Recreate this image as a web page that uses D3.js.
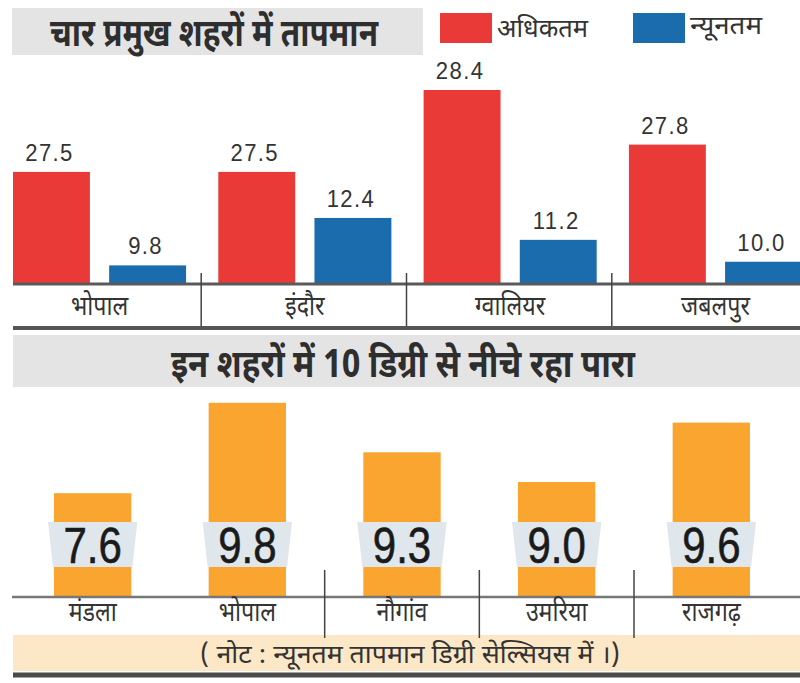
<!DOCTYPE html>
<html><head><meta charset="utf-8">
<script src="https://cdn.jsdelivr.net/npm/d3@7"></script>
<style>
html,body{margin:0;padding:0;background:#fff;}
svg{display:block;}
.dev{font-family:"Noto Sans Devanagari","Lohit Devanagari","Noto Sans",sans-serif;}
.num{font-family:"Liberation Sans","DejaVu Sans",sans-serif;}
</style>
</head><body>
<svg id="chart" width="800" height="683"></svg>
<script>
// ---- data ----
const titleTop = "चार प्रमुख शहरों में तापमान";
const titleBottom = "इन शहरों में 10 डिग्री से नीचे रहा पारा";
const noteText = "( नोट : न्यूनतम तापमान डिग्री सेल्सियस में ।)";
const seriesNames = ["अधिकतम", "न्यूनतम"];
const cities = ["भोपाल", "इंदौर", "ग्वालियर", "जबलपुर"];
const maxTemp = [27.5, 27.5, 28.4, 27.8];
const minTemp = [9.8, 12.4, 11.2, 10.0];
const coldCities = ["मंडला", "भोपाल", "नौगांव", "उमरिया", "राजगढ़"];
const coldTemp = [7.6, 9.8, 9.3, 9.0, 9.6];

const colors = {"अधिकतम": "#ea3a38", "न्यूनतम": "#1a6cad"};
const orange = "#f9a52f";
const fmt = d3.format(".1f");

const svg = d3.select("#chart");
const W = 800;

// ---- top section ----
svg.append("rect").attr("x", 12).attr("y", 8).attr("width", 411).attr("height", 47).attr("fill", "#e4e4e4");
svg.append("text").attr("class", "dev").attr("x", 214).attr("y", 46)
  .attr("text-anchor", "middle").attr("font-size", 39).attr("font-weight", "bold").attr("fill", "#2e2e2e")
  .attr("textLength", 328).attr("lengthAdjust", "spacingAndGlyphs").text(titleTop);

// legend
const leg = svg.append("g");
seriesNames.forEach((s, i) => {
  const g = leg.append("g").attr("transform", `translate(${440 + i * 193},13)`);
  g.append("rect").attr("width", 52).attr("height", 30).attr("fill", colors[s]);
  g.append("text").attr("class", "dev").attr("x", 57).attr("y", i === 0 ? 24 : 21)
    .attr("font-size", 26).attr("fill", "#333")
    .attr("textLength", i === 0 ? 91 : 72).attr("lengthAdjust", "spacingAndGlyphs").text(s);
});

const baseTop = 283;
const x0 = d3.scaleBand().domain(cities).range([13, 802]).paddingInner(0.157).paddingOuter(0);
const x1 = d3.scaleBand().domain(seriesNames).range([0, x0.bandwidth()]).paddingInner(0.2);
const yTop = d3.scaleLinear().domain([9, 13, 27.4, 28.4]).range([280, 207, 181, 90]);

const topData = cities.map((c, i) => ({city: c, vals: [
  {s: seriesNames[0], v: maxTemp[i]}, {s: seriesNames[1], v: minTemp[i]}]}));

const groups = svg.append("g").selectAll("g").data(topData).join("g")
  .attr("transform", d => `translate(${x0(d.city)},0)`);
groups.selectAll("rect").data(d => d.vals).join("rect")
  .attr("x", d => x1(d.s)).attr("width", x1.bandwidth())
  .attr("y", d => yTop(d.v)).attr("height", d => baseTop - yTop(d.v))
  .attr("fill", d => colors[d.s]);
groups.selectAll("text.val").data(d => d.vals).join("text").attr("class", "val num")
  .attr("transform", d => `translate(${x1(d.s) + x1.bandwidth() / 2 - 2},${yTop(d.v) - 11}) scale(0.92,1)`)
  .attr("text-anchor", "middle").attr("font-size", 24).attr("fill", "#333")
  .attr("letter-spacing", 1.5).text(d => fmt(d.v));

// category axis (top)
svg.append("line").attr("x1", 13).attr("x2", W).attr("y1", baseTop + 1).attr("y2", baseTop + 1)
  .attr("stroke", "#5a5a5a").attr("stroke-width", 3);
const stepTop = x0.step();
cities.slice(1).forEach(c => {
  const xd = x0(c) - (stepTop - x0.bandwidth()) / 2 - 1;
  svg.append("line").attr("x1", xd).attr("x2", xd).attr("y1", 273).attr("y2", 327)
    .attr("stroke", "#444").attr("stroke-width", 1.5);
});
svg.append("g").selectAll("text").data(cities).join("text").attr("class", "dev")
  .attr("transform", d => `translate(${x0(d) + x0.bandwidth() / 2},315) scale(0.86,1)`)
  .attr("text-anchor", "middle").attr("font-size", 27).attr("fill", "#333").text(d => d);
svg.append("line").attr("x1", 13).attr("x2", W).attr("y1", 328).attr("y2", 328)
  .attr("stroke", "#555").attr("stroke-width", 4);

// ---- bottom section ----
svg.append("rect").attr("x", 13).attr("y", 335).attr("width", W - 13).attr("height", 52).attr("fill", "#e4e4e4");
svg.append("text").attr("class", "dev").attr("x", 403).attr("y", 377)
  .attr("text-anchor", "middle").attr("font-size", 39).attr("font-weight", "bold").attr("fill", "#2e2e2e")
  .attr("textLength", 464).attr("lengthAdjust", "spacingAndGlyphs").text(titleBottom);

const baseBot = 597;
const xb = d3.scaleBand().domain(coldCities).range([54, 750]).paddingInner(0.5).paddingOuter(0);
const yb = d3.scaleLinear().domain([7, 9, 10]).range([498, 482, 383]);
const coldData = coldCities.map((c, i) => ({city: c, v: coldTemp[i]}));

svg.append("g").selectAll("rect").data(coldData).join("rect")
  .attr("x", d => xb(d.city)).attr("width", xb.bandwidth())
  .attr("y", d => yb(d.v)).attr("height", d => baseBot - yb(d.v)).attr("fill", orange);

// label stickers
svg.append("g").selectAll("path").data(coldData).join("path")
  .attr("d", d => {
    const a = xb(d.city), b = a + xb.bandwidth();
    return `M${a - 6},522 L${b + 6},522 L${b + 1},567 L${a - 1},567 Z`;
  }).attr("fill", "#dfe6ec");
svg.append("g").selectAll("text").data(coldData).join("text").attr("class", "num")
  .attr("transform", d => `translate(${xb(d.city) + xb.bandwidth() / 2},563) scale(0.84,1)`)
  .attr("text-anchor", "middle").attr("font-size", 50).attr("fill", "#1a1a1a")
  .attr("stroke", "#1a1a1a").attr("stroke-width", 0.6).text(d => fmt(d.v));

svg.append("line").attr("x1", 12).attr("x2", W).attr("y1", baseBot).attr("y2", baseBot)
  .attr("stroke", "#777").attr("stroke-width", 2.5);

// note band
svg.append("rect").attr("x", 13).attr("y", 635).attr("width", W - 13).attr("height", 36).attr("fill", "#fce7c6");
svg.append("text").attr("class", "dev").attr("x", 410).attr("y", 663)
  .attr("text-anchor", "middle").attr("font-size", 25).attr("fill", "#333")
  .attr("textLength", 420).attr("lengthAdjust", "spacingAndGlyphs").text(noteText);
svg.append("line").attr("x1", 13).attr("x2", W).attr("y1", 675).attr("y2", 675)
  .attr("stroke", "#4a4a4a").attr("stroke-width", 5);

// dividers (bottom)
const stepB = xb.step();
coldCities.slice(2).forEach(c => {
  const xd = xb(c) - (stepB - xb.bandwidth()) / 2;
  svg.append("line").attr("x1", xd).attr("x2", xd).attr("y1", 570).attr("y2", 638)
    .attr("stroke", "#444").attr("stroke-width", 1.5);
});

svg.append("g").selectAll("text").data(coldCities).join("text").attr("class", "dev")
  .attr("transform", d => `translate(${xb(d) + xb.bandwidth() / 2},621) scale(0.86,1)`)
  .attr("text-anchor", "middle").attr("font-size", 27).attr("fill", "#333").text(d => d);
</script>
</body></html>
